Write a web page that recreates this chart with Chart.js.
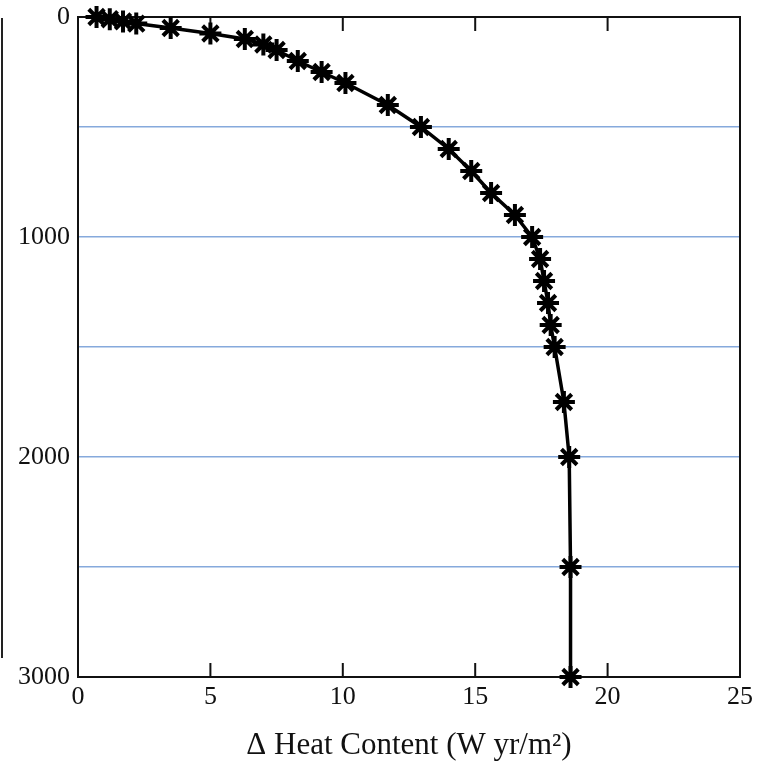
<!DOCTYPE html>
<html lang="en">

<head>
    <meta charset="UTF-8">
    <title>Heat Content</title>
    <script src="https://cdn.jsdelivr.net/npm/chart.js"></script>
</head>
<style>
    body {
        margin: 0;
        background: #ffffff;
    }

    .container {
        position: relative;
        width: 771px;
        height: 780px;
    }

    .edge {
        position: absolute;
        left: 1px;
        top: 18px;
        height: 640px;
        border-left: 2px solid #222;
    }
</style>

<body>
    <div class="container">
        <div class="edge"></div>
        <canvas id="grafico" width="771" height="780"></canvas>
    </div>
</body>

</html>

<script>
    // depth (m) and heat content change
    const profundidade = [0, 10, 20, 30, 50, 75, 100, 125, 150, 200, 250, 300, 400, 500, 600, 700, 800, 900,
        1000, 1100, 1200, 1300, 1400, 1500, 1750, 2000, 2500, 3000];
    const calor = [0.7, 1.2, 1.7, 2.2, 3.5, 5.0, 6.3, 7.0, 7.5, 8.3, 9.2, 10.1, 11.7, 12.95, 14.0, 14.85, 15.6, 16.5,
        17.15, 17.45, 17.6, 17.75, 17.85, 18.0, 18.35, 18.55, 18.6, 18.6];
    const ticksX = [0, 5, 10, 15, 20, 25];
    const ticksY = [0, 1000, 2000, 3000];

    const fonte = "'Liberation Serif', 'Times New Roman', serif";

    // frame plus inward ticks on top and bottom
    const moldura = {
        id: 'moldura',
        beforeDatasetsDraw(chart) {
            const ctx = chart.ctx;
            const area = chart.chartArea;
            const x = chart.scales.x;
            ctx.save();
            ctx.strokeStyle = '#111';
            ctx.lineWidth = 2;
            ticksX.forEach(function (v) {
                if (v === 0 || v === 25) return;
                const px = x.getPixelForValue(v);
                ctx.beginPath();
                ctx.moveTo(px, area.bottom);
                ctx.lineTo(px, area.bottom - 14);
                ctx.moveTo(px, area.top);
                ctx.lineTo(px, area.top + 14);
                ctx.stroke();
            });
            ctx.strokeRect(area.left, area.top, area.right - area.left, area.bottom - area.top);
            ctx.restore();
        }
    };

    var grafico = document.getElementById('grafico');
    new Chart(grafico, {
        type: 'line',
        data: {
            datasets: [{
                label: 'Heat content',
                data: profundidade.map(function (d, i) { return { x: calor[i], y: d }; }),
                borderColor: '#000',
                backgroundColor: '#000',
                borderWidth: 3.5,
                tension: 0,
                pointStyle: 'star',
                pointRadius: 11,
                pointBorderWidth: 4,
                pointBorderColor: '#000',
                clip: false
            }]
        },
        options: {
            responsive: false,
            animation: false,
            devicePixelRatio: 1,
            layout: { padding: { top: 17, right: 31, left: 0, bottom: 0 } },
            plugins: {
                legend: { display: false },
                tooltip: { enabled: false }
            },
            scales: {
                x: {
                    type: 'linear',
                    min: 0,
                    max: 25,
                    afterBuildTicks: function (s) { s.ticks = ticksX.map(function (v) { return { value: v }; }); },
                    afterFit: function (s) { s.height = 103; s.paddingLeft = 0; s.paddingRight = 0; },
                    grid: { display: false, drawTicks: false },
                    border: { display: false },
                    ticks: {
                        padding: 5,
                        color: '#111',
                        font: { family: fonte, size: 26 }
                    },
                    title: {
                        display: true,
                        text: 'Δ Heat Content (W yr/m²)',
                        color: '#111',
                        font: { family: fonte, size: 31 },
                        padding: { top: 0, bottom: 16 }
                    }
                },
                y: {
                    type: 'linear',
                    reverse: true,
                    min: 0,
                    max: 3000,
                    afterBuildTicks: function (s) {
                        var t = [];
                        for (var v = 0; v <= 3000; v += 500) t.push({ value: v });
                        s.ticks = t;
                    },
                    afterFit: function (s) { s.width = 78; s.paddingTop = 0; s.paddingBottom = 0; },
                    grid: {
                        drawTicks: false,
                        lineWidth: 1.5,
                        color: function (c) {
                            var v = c.tick ? c.tick.value : 0;
                            return (v === 0 || v === 3000) ? 'rgba(0,0,0,0)' : '#86a9dc';
                        }
                    },
                    border: { display: false },
                    ticks: {
                        padding: 8,
                        color: '#111',
                        font: { family: fonte, size: 26 },
                        callback: function (v) { return ticksY.indexOf(v) >= 0 ? String(v) : ''; }
                    }
                }
            }
        },
        plugins: [moldura]
    });
</script>
